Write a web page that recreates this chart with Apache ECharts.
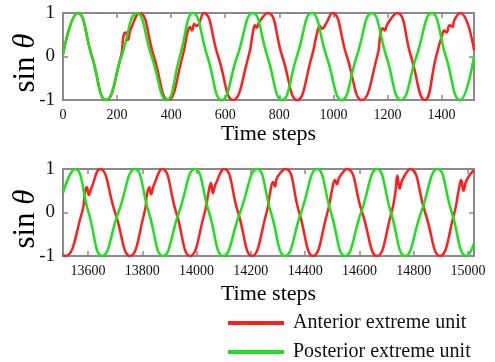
<!DOCTYPE html>
<html>
<head>
<meta charset="utf-8">
<script src="https://cdn.jsdelivr.net/npm/echarts@6/dist/echarts.min.js"></script>
<style>
  html, body { margin: 0; padding: 0; background: #fff; }
  #chart { width: 495px; height: 362px; }
</style>
</head>
<body>
<div id="chart"></div>
<script>
// tick labels
const topTicks = [0, 200, 400, 600, 800, 1000, 1200, 1400]
const bottomTicks = [13600, 13800, 14000, 14200, 14400, 14600, 14800, 15000]
const seriesNames = ['Anterior extreme unit', 'Posterior extreme unit']

// [time step, sin theta], first 1500 steps
const topAnterior = [
  [0, 0.05], [55, 1], [107, 0], [159, -1], [214, 0], [224, 0.48], [232, 0.55], [240, 0.38], [250, 0.62],
  [283, 1], [336, 0], [389, -1], [442, 0], [462, 0.6], [470, 0.68], [477, 0.6], [486, 0.75], [494, 0.7],
  [520, 1], [574, 0], [629, -1], [686, 0], [703, 0.58], [710, 0.72], [716, 0.66], [726, 0.8],
  [757, 1], [811, 0], [866, -1], [920, 0], [940, 0.55], [950, 0.7], [958, 0.64], [972, 0.75],
  [996, 1], [1050, 0], [1105, -1], [1162, 0], [1175, 0.55], [1183, 0.65], [1190, 0.6], [1200, 0.75],
  [1235, 1], [1287, 0], [1338, -1], [1380, 0], [1400, 0.45], [1410, 0.6], [1418, 0.55], [1430, 0.72],
  [1440, 0.68], [1448, 0.85], [1469, 1], [1520, 0.15]
]
const topPosterior = [
  [0, 0.05], [55, 1], [107, 0], [159, -1], [216, 0], [273, 1], [328, 0], [384, -1], [432, 0], [481, 1],
  [534, 0], [587, -1], [644, 0], [702, 1], [756, 0], [810, -1], [865, 0], [920, 1], [975, 0], [1031, -1],
  [1086, 0], [1142, 1], [1196, 0], [1250, -1], [1307, 0], [1364, 1], [1416, 0], [1468, -1], [1520, 0]
]

// last steps of the run
const bottomAnterior = [
  [13508, -0.97], [13516, -1], [13578, 0], [13590, 0.5], [13596, 0.58], [13603, 0.4], [13612, 0.55],
  [13644, 1], [13700, 0], [13755, -1], [13808, 0], [13818, 0.45], [13826, 0.58], [13832, 0.42], [13842, 0.62],
  [13873, 1], [13925, 0], [13976, -1], [14030, 0], [14045, 0.5], [14053, 0.68], [14060, 0.45], [14070, 0.65],
  [14101, 1], [14153, 0], [14204, -1], [14258, 0], [14272, 0.5], [14282, 0.7], [14289, 0.6], [14297, 0.8],
  [14328, 1], [14378, 0], [14429, -1], [14482, 0], [14500, 0.55], [14510, 0.75], [14517, 0.65], [14525, 0.8],
  [14554, 1], [14610, 0], [14665, -1], [14718, 0], [14732, 0.45], [14740, 0.85], [14748, 0.55], [14758, 0.75],
  [14787, 1], [14842, 0], [14897, -1], [14950, 0], [14965, 0.5], [14975, 0.75], [14983, 0.5], [14995, 0.75],
  [15022, 0.98]
]
const bottomPosterior = [
  [13508, 0.45], [13552, 1], [13602, 0], [13652, -1], [13712, 0], [13773, 1], [13824, 0], [13876, -1],
  [13935, 0], [13994, 1], [14046, 0], [14098, -1], [14160, 0], [14223, 1], [14274, 0], [14326, -1],
  [14385, 0], [14444, 1], [14495, 0], [14547, -1], [14606, 0], [14665, 1], [14716, 0], [14768, -1],
  [14827, 0], [14888, 1], [14940, 0], [14995, -1], [15022, -0.72]
]

const serif = 'Liberation Serif'
const frameColor = '#8a8a8a'
const colors = ['#ff1e1e', '#1ee01e']

function xAxis(grid, min, max, ticks, main, nameGap) {
  return {
    type: 'value',
    gridIndex: grid,
    position: main ? 'bottom' : 'top',
    min: min,
    max: max,
    name: main ? 'Time steps' : '',
    nameLocation: 'middle',
    nameGap: nameGap,
    nameTextStyle: { fontFamily: serif, fontSize: 22, color: '#000' },
    axisLine: { show: false, onZero: false },
    splitLine: { show: false },
    axisTick: {
      show: true, inside: true, length: 5, customValues: ticks,
      lineStyle: { color: frameColor, width: 1.5 }
    },
    axisLabel: {
      show: main, customValues: ticks, margin: 8,
      fontFamily: serif, fontSize: 14, color: '#111',
      formatter: v => String(v)
    }
  }
}

function yAxis(grid, main) {
  return {
    type: 'value',
    gridIndex: grid,
    position: main ? 'left' : 'right',
    min: -1,
    max: 1,
    interval: 1,
    name: main ? 'sin {i|θ}' : '',
    nameLocation: 'middle',
    nameRotate: 90,
    nameGap: 22,
    nameMoveOverlap: false,
    nameTextStyle: {
      fontFamily: serif, fontSize: 31, color: '#000', padding: [0, 13, 0, 0],
      rich: { i: { fontFamily: serif, fontSize: 31, fontStyle: 'italic', color: '#000' } }
    },
    axisLine: { show: false, onZero: false },
    splitLine: { show: false },
    axisTick: { show: true, inside: true, length: 5, lineStyle: { color: frameColor, width: 1.5 } },
    axisLabel: { show: main, margin: 8, fontFamily: serif, fontSize: 19, color: '#111' }
  }
}

function line(name, data, xi, yi, color) {
  return {
    name: name,
    type: 'line',
    xAxisIndex: xi,
    yAxisIndex: yi,
    data: data,
    smooth: 0.5,
    showSymbol: false,
    lineStyle: { color: color, width: 2.5 },
    itemStyle: { color: color }
  }
}

function legend(name, top) {
  return {
    data: [name],
    left: 223,
    top: top,
    icon: 'rect',
    itemWidth: 56,
    itemHeight: 4,
    selectedMode: false,
    textStyle: { fontFamily: serif, fontSize: 20, color: '#111', padding: [0, 0, 0, 4] }
  }
}

function grid(top) {
  return {
    left: 63, top: top, width: 411, height: 87,
    outerBoundsMode: 'none', containLabel: false,
    show: true, borderColor: frameColor, borderWidth: 2
  }
}

const chart = echarts.init(document.getElementById('chart'))
chart.setOption({
  animation: false,
  backgroundColor: '#fff',
  grid: [grid(13), grid(169)],
  xAxis: [
    xAxis(0, 0, 1520, topTicks, true, 22),
    xAxis(0, 0, 1520, topTicks, false, 0),
    xAxis(1, 13508, 15022, bottomTicks, true, 27),
    xAxis(1, 13508, 15022, bottomTicks, false, 0)
  ],
  yAxis: [
    yAxis(0, true),
    yAxis(0, false),
    yAxis(1, true),
    yAxis(1, false)
  ],
  legend: [
    legend(seriesNames[0], 308),
    legend(seriesNames[1], 337)
  ],
  series: [
    line(seriesNames[0], topAnterior, 0, 0, colors[0]),
    line(seriesNames[1], topPosterior, 0, 0, colors[1]),
    line(seriesNames[0], bottomAnterior, 2, 2, colors[0]),
    line(seriesNames[1], bottomPosterior, 2, 2, colors[1])
  ]
})
</script>
</body>
</html>
